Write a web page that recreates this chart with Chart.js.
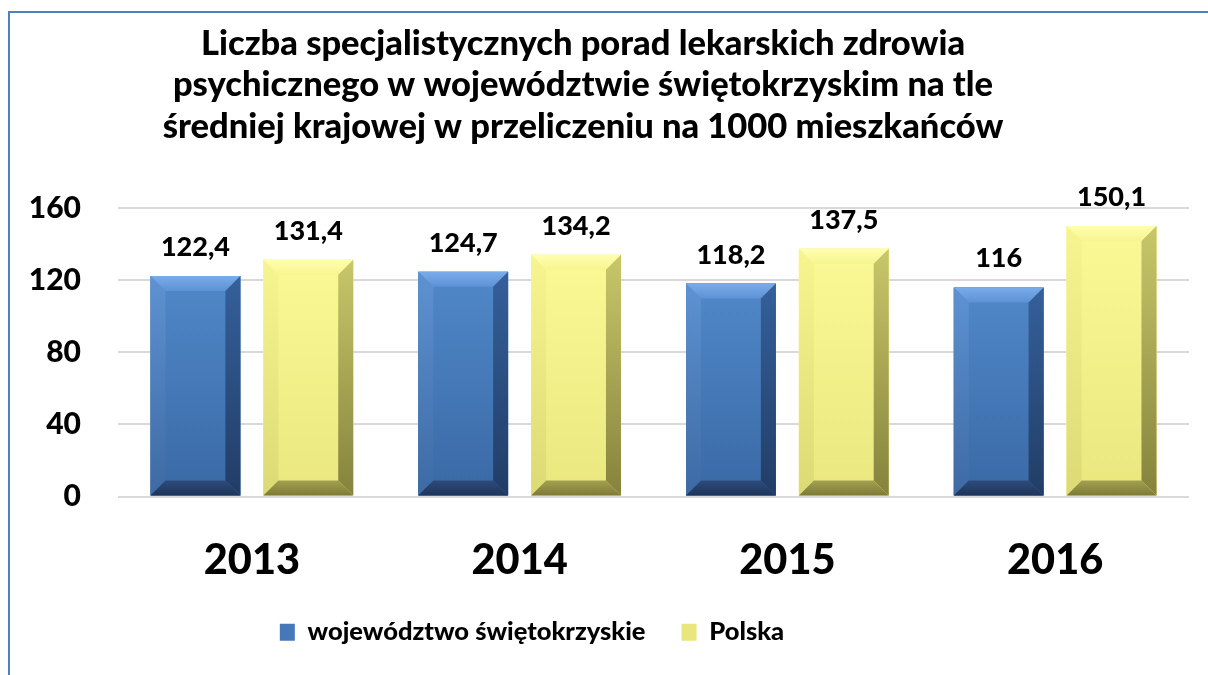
<!DOCTYPE html>
<html>
<head>
<meta charset="utf-8">
<script src="https://cdn.jsdelivr.net/npm/chart.js@4.4.1/dist/chart.umd.min.js"></script>
<style>
  html, body { margin: 0; padding: 0; background: #fff; overflow: hidden; }
  #wrap { position: relative; width: 1208px; height: 675px; }
  #frame { position: absolute; left: 8px; top: 11px; width: 1300px; height: 800px; border: 2px solid #4f81bd; box-sizing: border-box; }
  canvas { position: absolute; left: 0; top: 0; }
</style>
</head>
<body>
<div id="wrap">
  <div id="frame"></div>
  <canvas id="chart" width="1208" height="675"></canvas>
</div>
<script>
// Chart data
const years = ['2013', '2014', '2015', '2016'];
const swietokrzyskie = [122.4, 124.7, 118.2, 116];
const polska = [131.4, 134.2, 137.5, 150.1];
const yTicks = [0, 40, 80, 120, 160];
const seriesNames = ['województwo świętokrzyskie', 'Polska'];
const titleLines = [
  'Liczba specjalistycznych porad lekarskich zdrowia',
  'psychicznego w województwie świętokrzyskim na tle',
  'średniej krajowej w przeliczeniu na 1000 mieszkańców'
];

const FONT = 'Lato, "Liberation Sans", sans-serif';
const WEIGHT = 900;

// Shading for the bevelled bars (blue, yellow)
const shades = [
  { face: ['#5088c9', '#3a69a5'], top: ['#7aacea', '#5d92d6'], left: ['#5e92d2', '#3d6aa3'],
    right: ['#35609b', '#213d66'], bottom: ['#2c4c7c', '#1f3558'] },
  { face: ['#fbf995', '#e9e77e'], top: ['#ffffb0', '#f7f590'], left: ['#f7f590', '#dcda74'],
    right: ['#c9c76a', '#85833c'], bottom: ['#a3a150', '#7c7a38'] }
];

function fmt(v) {
  return String(v).replace('.', ',');
}

function poly(ctx, pts, c0, c1, x0, y0, x1, y1) {
  const g = ctx.createLinearGradient(x0, y0, x1, y1);
  g.addColorStop(0, c0);
  g.addColorStop(1, c1);
  ctx.fillStyle = g;
  ctx.beginPath();
  ctx.moveTo(pts[0][0], pts[0][1]);
  for (let k = 1; k < pts.length; k++) ctx.lineTo(pts[k][0], pts[k][1]);
  ctx.closePath();
  ctx.fill();
}

// Draws the bevel look over each bar and the value labels above them
const bevelPlugin = {
  id: 'bevel',
  afterDatasetsDraw(chart) {
    const ctx = chart.ctx;
    ctx.save();
    chart.data.datasets.forEach((ds, i) => {
      const meta = chart.getDatasetMeta(i);
      const s = shades[i];
      meta.data.forEach((bar, j) => {
        const { x, y, base, width } = bar.getProps(['x', 'y', 'base', 'width'], true);
        const L = x - width / 2, R = x + width / 2, T = y, B = base;
        const b = 15;
        poly(ctx, [[L, T], [R, T], [R, B], [L, B]], s.face[0], s.face[1], 0, T, 0, B);
        poly(ctx, [[L, T], [R, T], [R - b, T + b], [L + b, T + b]], s.top[0], s.top[1], 0, T, 0, T + b);
        poly(ctx, [[L, T], [L + b, T + b], [L + b, B - b], [L, B]], s.left[0], s.left[1], 0, T, 0, B);
        poly(ctx, [[R, T], [R - b, T + b], [R - b, B - b], [R, B]], s.right[0], s.right[1], 0, T, 0, B);
        poly(ctx, [[L, B], [L + b, B - b], [R - b, B - b], [R, B]], s.bottom[0], s.bottom[1], 0, B - b, 0, B);

        ctx.fillStyle = '#000';
        ctx.font = WEIGHT + ' 27px ' + FONT;
        ctx.textAlign = 'center';
        ctx.textBaseline = 'alphabetic';
        ctx.fillText(fmt(ds.data[j]), x, T - 20);
      });
    });
    ctx.restore();
  }
};

// Title and legend are not centred on the canvas in the original
const shiftPlugin = {
  id: 'shift',
  afterLayout(chart) {
    if (chart.titleBlock) {
      chart.titleBlock.left -= 26;
      chart.titleBlock.right -= 26;
    }
    if (chart.legend) {
      chart.legend.left -= 154;
    }
  }
};

const chart = new Chart(document.getElementById('chart'), {
  type: 'bar',
  data: {
    labels: years,
    datasets: [{
      label: seriesNames[0],
      data: swietokrzyskie,
      backgroundColor: '#4677b8'
    }, {
      label: seriesNames[1],
      data: polska,
      backgroundColor: '#e8e67c'
    }]
  },
  options: {
    responsive: false,
    animation: false,
    events: [],
    categoryPercentage: 0.843,
    barPercentage: 0.796,
    layout: {
      padding: { top: 0, left: 29, right: 19, bottom: 20 }
    },
    plugins: {
      title: {
        display: true,
        text: titleLines,
        color: '#000',
        font: { family: FONT, size: 34.5, weight: WEIGHT, lineHeight: 1.2 },
        padding: { top: 23, bottom: 61 }
      },
      legend: {
        position: 'bottom',
        labels: {
          color: '#000',
          font: { family: FONT, size: 25.5, weight: WEIGHT },
          boxWidth: 15,
          boxHeight: 17,
          padding: 36
        }
      },
      tooltip: { enabled: false }
    },
    scales: {
      x: {
        afterFit(axis) { axis.height = 87; },
        grid: { display: false, drawTicks: false },
        border: { display: false },
        ticks: {
          color: '#000',
          font: { family: FONT, size: 41.5, weight: WEIGHT },
          padding: 39
        }
      },
      y: {
        min: 0,
        max: 160,
        afterFit(axis) { axis.width = 89; },
        afterBuildTicks(axis) {
          axis.ticks = yTicks.map(v => ({ value: v }));
        },
        grid: { color: '#d9d9d9', lineWidth: 2, drawTicks: false },
        border: { display: false },
        ticks: {
          color: '#000',
          font: { family: FONT, size: 30, weight: WEIGHT },
          padding: 37
        }
      }
    }
  },
  plugins: [bevelPlugin, shiftPlugin]
});
</script>
</body>
</html>
